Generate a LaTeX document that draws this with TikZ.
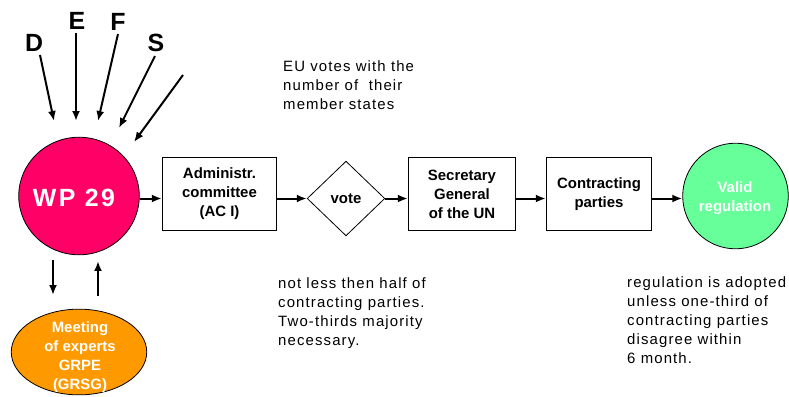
\documentclass[tikz,border=0pt]{standalone}
\usepackage{fontspec}
\setmainfont{Liberation Sans}
\newfontfamily\spacedfont[LetterSpace=7.5]{Liberation Sans}
\newfontfamily\wpfont[LetterSpace=10]{Liberation Sans}
\usetikzlibrary{shapes.geometric,arrows.meta}
\definecolor{wpPink}{HTML}{FF0066}
\definecolor{expOrange}{HTML}{FF9900}
\definecolor{validGreen}{HTML}{66FF99}
\tikzset{
  arr/.style={line width=2pt,-{Latex[length=10pt,width=8pt]}},
  stepbox/.style={draw,line width=0.8pt,rectangle,inner sep=0pt,align=center,
    font=\bfseries\fontsize{15}{19}\selectfont},
  bigletter/.style={font=\bfseries\fontsize{25}{25}\selectfont,inner sep=0pt},
  note/.style={align=left,inner sep=0pt,anchor=base west,
    font=\spacedfont\fontsize{15}{19}\selectfont},
  whitetext/.style={text=white,align=center,inner sep=0pt,
    font=\bfseries\fontsize{15}{19}\selectfont},
}
\begin{document}
\begin{tikzpicture}[x=1bp,y=-1bp]
\useasboundingbox (0,0) rectangle (789,396);
% main circle
\node[ellipse,draw,line width=0.8pt,fill=wpPink,minimum width=121,minimum height=118,inner sep=0pt] (wp) at (79,196) {};
\node[text=white,inner sep=0pt,font=\wpfont\bfseries\fontsize{25}{25}\selectfont] (wpt) at (74,197.5) {WP 29};
% letters
\node[bigletter] (lD) at (34,43) {D};
\node[bigletter] (lE) at (77,21) {E};
\node[bigletter] (lF) at (118,22) {F};
\node[bigletter] (lS) at (156,43) {S};
\coordinate (dS) at (40,55);  \coordinate (dE) at (54,121);
\coordinate (eS) at (76,33);  \coordinate (eE) at (76,121);
\coordinate (fS) at (118,34); \coordinate (fE) at (98,121);
\coordinate (sS) at (155,56); \coordinate (sE) at (119,128);
\coordinate (xS) at (183,75); \coordinate (xE) at (134,142);
\draw[arr] (dS) -- (dE);
\draw[arr] (eS) -- (eE);
\draw[arr] (fS) -- (fE);
\draw[arr] (sS) -- (sE);
\draw[arr] (xS) -- (xE);
% chain
\node[stepbox,minimum width=115,minimum height=74] (adm) at (219.5,194) {Administr.\\committee\\(AC I)};
\node[diamond,draw,line width=0.8pt,minimum width=78,minimum height=75,inner sep=0pt,
  font=\bfseries\fontsize{15}{19}\selectfont] (vote) at (346,198.5) {vote};
\node[stepbox,minimum width=108,minimum height=74] (sec) at (462,194) {Secretary\\General\\of the UN};
\node[stepbox,minimum width=106,minimum height=74] (con) at (599,194) {Contracting\\parties};
\node[circle,draw,line width=0.8pt,fill=validGreen,minimum size=106,inner sep=0pt] (val) at (735.5,196) {};
\node[whitetext] (valt) at (735,198) {Valid\\regulation};
\draw[arr] (wp.east |- vote) -- (adm.west |- vote);
\draw[arr] (adm.east |- vote) -- (vote.west);
\draw[arr] (vote.east) -- (sec.west |- vote);
\draw[arr] (sec.east |- vote) -- (con.west |- vote);
\draw[arr] (con.east |- vote) -- (val.west |- vote);
% experts
\node[ellipse,draw,line width=0.8pt,fill=expOrange,minimum width=136,minimum height=86,inner sep=0pt] (exp) at (79,352) {};
\node[whitetext] (expt) at (80,357) {Meeting\\of experts\\GRPE\\(GRSG)};
\coordinate (m1S) at (53,260); \coordinate (m1E) at (53,295);
\coordinate (m2S) at (98,296); \coordinate (m2E) at (98,261);
\draw[arr] (m1S) -- (m1E);
\draw[arr] (m2S) -- (m2E);
% notes (base anchor = baseline of last line)
\node[note] (n1) at (283,109) {EU votes with the\\number of\ \ their\\member states};
\node[note] (n2) at (278,345) {not less then half of\\contracting parties.\\Two-thirds majority\\necessary.};
\node[note] (n3) at (627,363) {regulation is adopted\\unless one-third of\\contracting parties\\disagree within\\6 month.};
\end{tikzpicture}
\end{document}
